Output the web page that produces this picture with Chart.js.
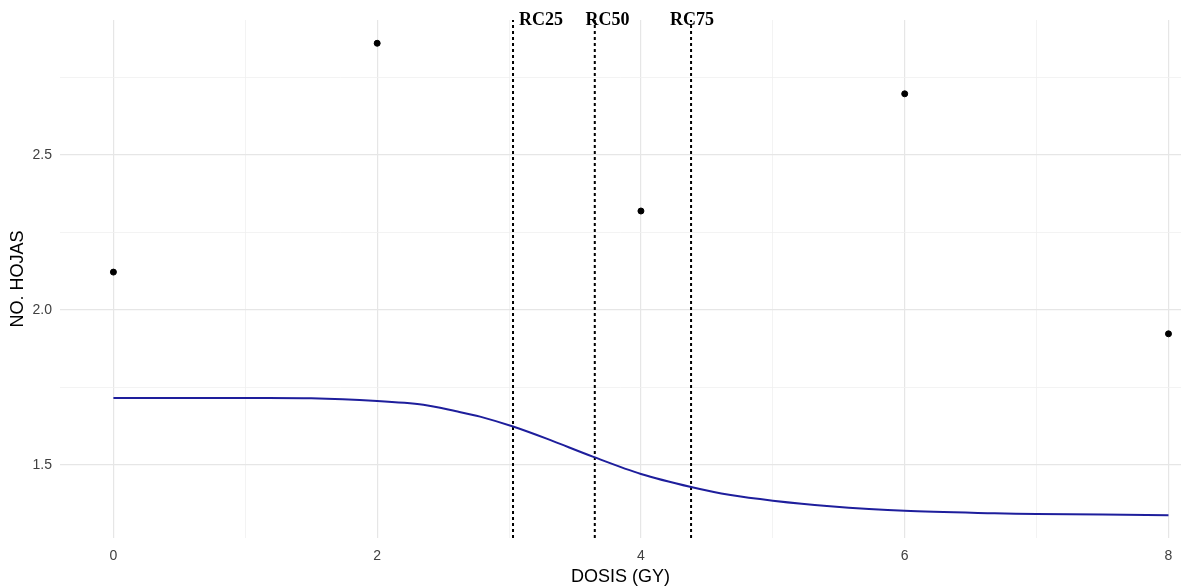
<!DOCTYPE html>
<html>
<head>
<meta charset="utf-8">
<script src="https://cdn.jsdelivr.net/npm/chart.js@4.4.1/dist/chart.umd.min.js"></script>
<style>
    html, body { margin: 0; padding: 0; background: #ffffff; }
    #wrap { width: 1181px; height: 588px; }
</style>
</head>
<body>
<div id="wrap"><canvas id="chart"></canvas></div>
<script>
// Observed means per dose
const doseX = [0, 2, 4, 6, 8];
const hojasY = [2.122, 2.860, 2.319, 2.697, 1.923];

// Fitted curve
const curveX = [0, 0.5, 1, 1.5, 2, 2.35, 2.6, 2.78, 3.03, 3.29, 3.64, 4, 4.38, 4.68, 5, 5.41, 6, 6.68, 7, 8];
const curveY = [1.716, 1.716, 1.716, 1.715, 1.706, 1.694, 1.673, 1.656, 1.624, 1.584, 1.526, 1.471, 1.429, 1.403, 1.385, 1.368, 1.352, 1.344, 1.342, 1.338];

// Reference doses (dotted vertical lines) and their labels
const rcNames = ['RC25', 'RC50', 'RC75'];
const rcX = [3.03, 3.65, 4.38];
const rcLabelX = [3.243, 3.747, 4.388];
const rcLabelY = 2.933;

// Axis setup
const xMin = -0.405, xMax = 8.095;
const yMin = 1.2645, yMax = 2.935;
const xTicks = [0, 1, 2, 3, 4, 5, 6, 7, 8];
const yTicks = [1.5, 1.75, 2.0, 2.25, 2.5, 2.75];

const isMajorX = v => v % 2 === 0;
const isMajorY = v => Math.abs(v * 2 - Math.round(v * 2)) < 1e-6;

// RC lines as datasets spanning the panel
let rcSets = rcX.map(function(x) {
    return {
        type: 'line',
        data: [{x: x, y: yMin}, {x: x, y: yMax}],
        borderColor: '#000000',
        borderWidth: 2,
        borderDash: [3, 3],
        pointRadius: 0,
        fill: false
    };
});

// Text labels for RC lines
const rcLabels = {
    id: 'rcLabels',
    afterDatasetsDraw(chart) {
        let ctx = chart.ctx;
        let xs = chart.scales.x, ys = chart.scales.y;
        ctx.save();
        ctx.font = 'bold 18px "Liberation Serif", "Times New Roman", serif';
        ctx.fillStyle = '#000000';
        ctx.textAlign = 'center';
        ctx.textBaseline = 'middle';
        rcNames.forEach(function(name, i) {
            ctx.fillText(name, xs.getPixelForValue(rcLabelX[i]), ys.getPixelForValue(rcLabelY));
        });
        ctx.restore();
    }
};

new Chart(document.getElementById('chart'), {
    type: 'scatter',
    data: {
        datasets: [
            {
                type: 'line',
                data: curveX.map((x, i) => ({x: x, y: curveY[i]})),
                borderColor: '#1e1e9c',
                borderWidth: 2,
                pointRadius: 0,
                tension: 0.3,
                fill: false
            },
            ...rcSets,
            {
                data: doseX.map((x, i) => ({x: x, y: hojasY[i]})),
                backgroundColor: '#000000',
                borderColor: '#000000',
                pointRadius: 3,
                pointStyle: 'circle'
            }
        ]
    },
    options: {
        responsive: true,
        maintainAspectRatio: false,
        animation: false,
        layout: { autoPadding: false, padding: { top: 20, left: 0, right: 0, bottom: 0 } },
        plugins: {
            legend: { display: false },
            tooltip: { enabled: false }
        },
        scales: {
            x: {
                type: 'linear',
                min: xMin,
                max: xMax,
                afterBuildTicks: s => { s.ticks = xTicks.map(v => ({value: v})); },
                afterFit: s => { s.height = 50; s.paddingRight = 0; s.paddingLeft = 0; },
                border: { display: false },
                grid: {
                    drawTicks: false,
                    color: c => isMajorX(c.tick.value) ? '#e6e6e6' : '#f0f0f0',
                    lineWidth: c => isMajorX(c.tick.value) ? 1.2 : 0.8
                },
                ticks: {
                    padding: 10,
                    color: '#404040',
                    font: { family: '"Liberation Sans", Arial, sans-serif', size: 14 },
                    callback: v => isMajorX(v) ? String(v) : ''
                },
                title: {
                    display: true,
                    text: 'DOSIS (GY)',
                    color: '#000000',
                    font: { family: '"Liberation Sans", Arial, sans-serif', size: 18 },
                    padding: { top: 0, bottom: 0 }
                }
            },
            y: {
                type: 'linear',
                min: yMin,
                max: yMax,
                afterBuildTicks: s => { s.ticks = yTicks.map(v => ({value: v})); },
                afterFit: s => { s.width = 60; },
                border: { display: false },
                grid: {
                    drawTicks: false,
                    color: c => isMajorY(c.tick.value) ? '#e6e6e6' : '#f0f0f0',
                    lineWidth: c => isMajorY(c.tick.value) ? 1.2 : 0.8
                },
                ticks: {
                    padding: 8,
                    color: '#404040',
                    font: { family: '"Liberation Sans", Arial, sans-serif', size: 14 },
                    callback: v => isMajorY(v) ? v.toFixed(1) : ''
                },
                title: {
                    display: true,
                    text: 'NO. HOJAS',
                    color: '#000000',
                    font: { family: '"Liberation Sans", Arial, sans-serif', size: 18 },
                    padding: { top: 7, bottom: 0 }
                }
            }
        }
    },
    plugins: [rcLabels]
});
</script>
</body>
</html>
